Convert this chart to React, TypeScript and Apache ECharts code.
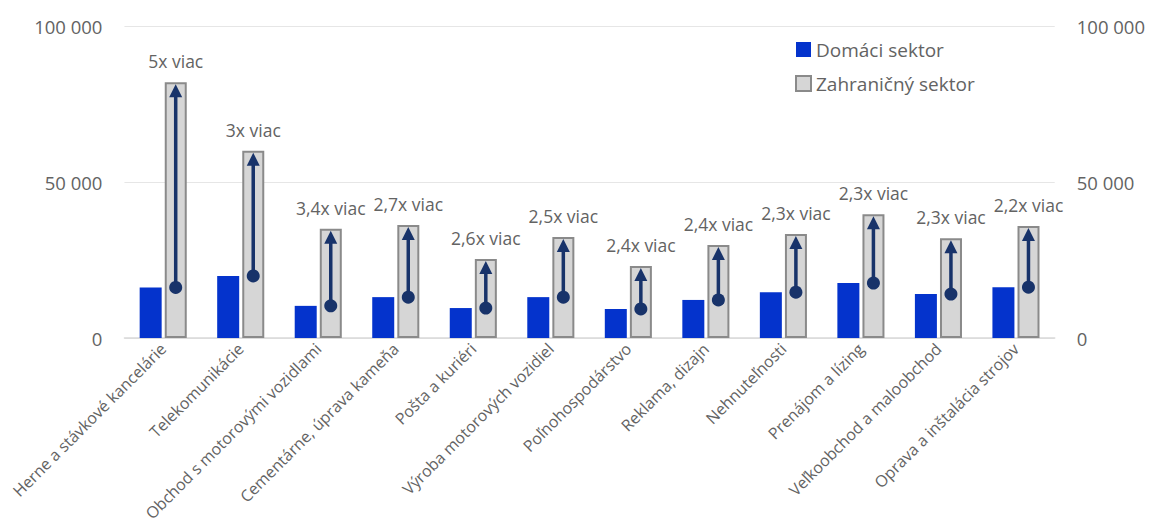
import React, { useEffect, useRef } from "react";
import * as echarts from "echarts";

const categories = [
  "Herne a stávkové kancelárie",
  "Telekomunikácie",
  "Obchod s motorovými vozidlami",
  "Cementárne, úprava kameňa",
  "Pošta a kuriéri",
  "Výroba motorových vozidiel",
  "Poľnohospodárstvo",
  "Reklama, dizajn",
  "Nehnuteľnosti",
  "Prenájom a lízing",
  "Veľkoobchod a maloobchod",
  "Oprava a inštalácia strojov",
];
const domestic = [16200, 19900, 10300, 13100, 9600, 13100, 9300, 12200, 14700, 17600, 14100, 16300];
const foreign = [82000, 60000, 35000, 36200, 25300, 32400, 23100, 29800, 33300, 39700, 32000, 35900];
const ratioLabels = [
  "5x viac", "3x viac", "3,4x viac", "2,7x viac", "2,6x viac", "2,5x viac",
  "2,4x viac", "2,4x viac", "2,3x viac", "2,3x viac", "2,3x viac", "2,2x viac",
];
const yTicks = [0, 50000, 100000];

const FONT = "'Open Sans', 'Noto Sans', sans-serif";
const TXT = "#636363";

export default function App() {
  const ref = useRef<HTMLDivElement>(null);
  useEffect(() => {
    const chart = echarts.init(ref.current!, null, { renderer: "svg" });
    const fmt = (v: number) => String(v).replace(/\B(?=(\d{3})+(?!\d))/g, " ");
    const BW = 22;
    const OFF = 12.5;
    chart.setOption({
      animation: false,
      textStyle: { fontFamily: FONT },
      grid: { left: 115, right: 87, top: 18, bottom: 189, containLabel: false },
      legend: {
        orient: "vertical",
        left: 782,
        top: 27,
        icon: "rect",
        itemWidth: 15,
        itemHeight: 15,
        itemGap: 15,
        textStyle: { fontSize: 19, color: TXT, fontFamily: FONT },
        data: ["Domáci sektor", "Zahraničný sektor"],
      },
      xAxis: {
        type: "category",
        data: categories,
        axisLine: { lineStyle: { color: "#d9d9d9", width: 1.5 } },
        axisTick: { show: false },
        axisLabel: { rotate: 45, color: TXT, fontSize: 16, margin: 8, interval: 0, fontFamily: FONT },
      },
      yAxis: [
        {
          type: "value",
          min: yTicks[0],
          max: yTicks[2],
          interval: 50000,
          axisLine: { show: false },
          axisTick: { show: false },
          splitLine: { lineStyle: { color: "#e6e6e6", width: 1 } },
          axisLabel: { color: TXT, fontSize: 18.5, margin: 22, formatter: fmt, fontFamily: FONT },
        },
        {
          type: "value",
          min: yTicks[0],
          max: yTicks[2],
          interval: 50000,
          position: "right",
          axisLine: { show: false },
          axisTick: { show: false },
          splitLine: { show: false },
          axisLabel: { color: TXT, fontSize: 18.5, margin: 22, formatter: fmt, fontFamily: FONT },
        },
      ],
      series: [
        {
          name: "Domáci sektor",
          type: "bar",
          data: domestic,
          barWidth: BW,
          barGap: "14%",
          itemStyle: { color: "#0433cc" },
        },
        {
          name: "Zahraničný sektor",
          type: "bar",
          data: foreign,
          barWidth: BW,
          itemStyle: { color: "#d6d6d6", borderColor: "#8a8a8a", borderWidth: 2 },
          label: {
            show: true,
            position: "top",
            distance: 12,
            color: TXT,
            fontSize: 17.5,
            fontFamily: FONT,
            formatter: (p: any) => ratioLabels[p.dataIndex],
          },
        },
        {
          type: "custom",
          name: "arrows",
          z: 5,
          data: categories.map((_, i) => [i, domestic[i], foreign[i]]),
          encode: { x: 0, y: [1, 2] },
          renderItem: (params: any, api: any) => {
            const p0 = api.coord([api.value(0), api.value(1)]);
            const p1 = api.coord([api.value(0), api.value(2)]);
            const x = p0[0] + OFF;
            const y0 = p0[1];
            const yt = p1[1] + 2;
            const navy = "#18336a";
            return {
              type: "group",
              children: [
                {
                  type: "line",
                  shape: { x1: x, y1: y0, x2: x, y2: yt + 10 },
                  style: { stroke: navy, lineWidth: 3.5 },
                },
                {
                  type: "polygon",
                  shape: { points: [[x, yt], [x - 6.5, yt + 13], [x + 6.5, yt + 13]] },
                  style: { fill: navy },
                },
                {
                  type: "circle",
                  shape: { cx: x, cy: y0, r: 6.5 },
                  style: { fill: navy },
                },
              ],
            };
          },
        },
      ],
    });
    return () => chart.dispose();
  }, []);
  return <div ref={ref} style={{ width: 1140, height: 519 }} />;
}
